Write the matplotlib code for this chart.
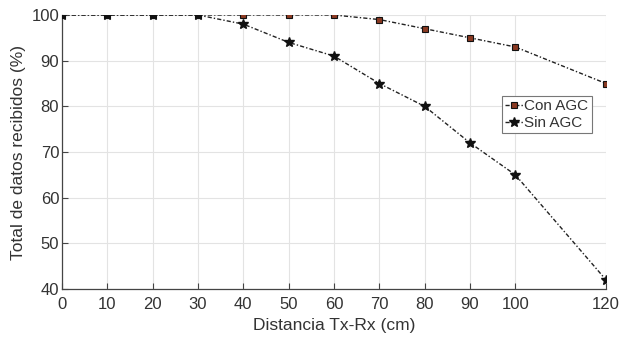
import matplotlib
matplotlib.use("Agg")
import matplotlib.pyplot as plt

plt.rcParams['font.family'] = ['Liberation Sans', 'DejaVu Sans']

distancia = [0, 10, 20, 30, 40, 50, 60, 70, 80, 90, 100, 120]
con_agc = [100, 100, 100, 100, 100, 100, 100, 99, 97, 95, 93, 85]
sin_agc = [100, 100, 100, 100, 98, 94, 91, 85, 80, 72, 65, 42]
xticks = [0, 10, 20, 30, 40, 50, 60, 70, 80, 90, 100, 120]
yticks = [40, 50, 60, 70, 80, 90, 100]

fig = plt.figure(figsize=(6.21, 3.40), dpi=100)
ax = fig.add_axes([62/621, 1-289/340, 544/621, 274/340])

txt = '#333333'
dash = (0, (3, 1.5, 1, 1.5))
ax.plot(distancia, con_agc, linestyle=dash, color='#222222', linewidth=1.0,
        marker='s', markersize=5, markerfacecolor='#8B3A22', markeredgecolor='#111111',
        markeredgewidth=0.8, label='Con AGC', zorder=3)
ax.plot(distancia, sin_agc, linestyle=dash, color='#222222', linewidth=1.0,
        marker='*', markersize=7.5, markerfacecolor='#111111', markeredgecolor='#111111',
        label='Sin AGC', zorder=3)

ax.set_xlim(0, 120)
ax.set_ylim(40, 100)
ax.set_xticks(xticks)
ax.set_yticks(yticks)
ax.grid(True, color='#e3e3e3', linewidth=0.8)
ax.set_axisbelow(True)
for s in ['top', 'right']:
    ax.spines[s].set_visible(False)
for s in ['left', 'bottom']:
    ax.spines[s].set_color('#444444')
    ax.spines[s].set_linewidth(0.9)
ax.tick_params(axis='both', direction='in', length=4, colors='#444444',
               labelcolor=txt, labelsize=12)
ax.tick_params(axis='x', pad=6)
ax.tick_params(axis='y', pad=2)
ax.set_xlabel('Distancia Tx-Rx (cm)', fontsize=12.5, color=txt, labelpad=4)
ax.set_ylabel('Total de datos recibidos (%)', fontsize=12.5, color=txt, labelpad=4)

leg = ax.legend(loc='upper left', bbox_to_anchor=(0.808, 0.705), fontsize=11,
                frameon=True, fancybox=False, framealpha=1, edgecolor='#777777',
                handlelength=1.2, handletextpad=0.1, borderpad=0.2,
                labelspacing=0.2, borderaxespad=0, labelcolor=txt)
leg.get_frame().set_linewidth(0.8)

fig.savefig('out.png', dpi=100)
